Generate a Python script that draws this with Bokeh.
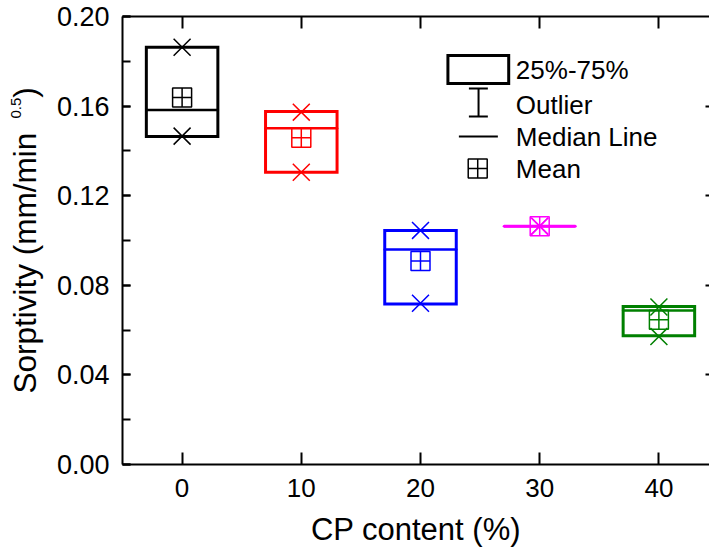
import math
from bokeh.plotting import figure
from bokeh.models import (Range1d, FixedTicker, LinearAxis, Title, ColumnDataSource,
                          PrintfTickFormatter, CustomJSTickFormatter)
from bokeh.embed import file_html
from bokeh.resources import INLINE
from bokeh.core.properties import value

# ---- data ----
cp_content = [0, 10, 20, 30, 40]
q1 = [0.1464, 0.1305, 0.0717, 0.1064, 0.0575]
q3 = [0.1863, 0.1576, 0.1045, 0.1064, 0.0705]
median = [0.1583, 0.1501, 0.0960, 0.1064, 0.0688]
mean = [0.1638, 0.1459, 0.0909, 0.1064, 0.0646]
v_min = [0.1466, 0.1305, 0.0720, 0.1064, 0.0571]
v_max = [0.1863, 0.1573, 0.1045, 0.1064, 0.0703]
colors = ["black", "red", "blue", "magenta", "green"]

x_ticks = [0, 10, 20, 30, 40]
y_ticks = [0.0, 0.04, 0.08, 0.12, 0.16, 0.20]
y_minor = [0.0, 0.02, 0.04, 0.06, 0.08, 0.10, 0.12, 0.14, 0.16, 0.18, 0.20]
legend_labels = ["25%-75%", "Outlier", "Median Line", "Mean"]

FONT = "Liberation Sans"
HALF = 3.0
W, H = 709, 552
NB = "\u00a0"

src = ColumnDataSource(dict(
    x=cp_content,
    left=[c - HALF for c in cp_content],
    right=[c + HALF for c in cp_content],
    q1=q1, q3=q3, median=median, mean=mean, vmin=v_min, vmax=v_max, color=colors,
))

p = figure(width=W, height=H, x_range=Range1d(-5, 44.245), y_range=Range1d(0, 0.2),
           output_backend="svg", toolbar_location=None,
           min_border_left=122, min_border_right=0, min_border_top=16, min_border_bottom=88)
p.outline_line_color = None
p.xgrid.visible = False
p.ygrid.visible = False
p.background_fill_color = "white"
p.border_fill_color = "white"

# boxes
p.quad(left="left", right="right", bottom="q1", top="q3", source=src,
       fill_color=None, line_color="color", line_width=3, line_join="miter")
# median
p.segment(x0="left", x1="right", y0="median", y1="median", source=src,
          line_color="color", line_width=2.5, line_cap="round")
# min / max
p.scatter(x="x", y="vmin", source=src, marker="x", size=24, line_color="color", line_width=1.5)
p.scatter(x="x", y="vmax", source=src, marker="x", size=24, line_color="color", line_width=1.5)
# mean
p.scatter(x="x", y="mean", source=src, marker="square_cross", size=19,
          fill_color=None, line_color="color", line_width=1.5)

# ---- axes ----
xa = p.xaxis[0]
xa.ticker = FixedTicker(ticks=x_ticks)
xa.major_tick_in = 12
xa.major_tick_out = 0
xa.minor_tick_line_color = None
xa.axis_line_width = 2
xa.major_tick_line_width = 2
xa.major_label_text_font = FONT
xa.major_label_text_font_size = "26px"
xa.major_label_text_color = "black"
xa.major_label_standoff = 14
xa.axis_label = "CP content (%)"
xa.axis_label_text_font = FONT
xa.axis_label_text_font_size = "31px"
xa.axis_label_text_font_style = "normal"
xa.axis_label_text_color = "black"
xa.axis_label_standoff = 12

ya = p.yaxis[0]
ya.ticker = FixedTicker(ticks=y_ticks, minor_ticks=y_minor)
ya.formatter = PrintfTickFormatter(format="%.2f")
ya.major_tick_in = 8
ya.major_tick_out = 0
ya.minor_tick_in = 8
ya.minor_tick_out = 0
ya.axis_line_width = 2
ya.major_tick_line_width = 2
ya.minor_tick_line_width = 2
ya.major_label_text_font = FONT
ya.major_label_text_font_size = "27px"
ya.major_label_text_color = "black"
ya.major_label_standoff = 13
ya.axis_label = "Sorptivity (mm/min" + NB * 4 + ")"
ya.axis_label_text_font = FONT
ya.axis_label_text_font_size = "31.5px"
ya.axis_label_text_font_style = "normal"
ya.axis_label_text_color = "black"
ya.axis_label_standoff = 11

top = LinearAxis(ticker=FixedTicker(ticks=x_ticks), major_tick_in=12, major_tick_out=0,
                 minor_tick_line_color=None, axis_line_width=2, major_tick_line_width=2,
                 formatter=CustomJSTickFormatter(code="return ''"), major_label_standoff=0)
p.add_layout(top, "above")
right = LinearAxis(ticker=FixedTicker(ticks=[0.04, 0.08, 0.12, 0.16]), major_tick_in=4,
                   major_tick_out=0, minor_tick_line_color=None, axis_line_color=None,
                   major_tick_line_width=2, formatter=CustomJSTickFormatter(code="return ''"),
                   major_label_standoff=0)
p.add_layout(right, "right")

# superscript of the y-axis title
sup = Title(text="0.5", align="left", offset=346, text_font=FONT, text_font_size="15px",
            text_font_style="normal", text_color="black", standoff=-35)
p.add_layout(sup, "left")

# ---- legend (drawn manually) ----
p.quad(left=[22.3], right=[27.4], bottom=[0.1701], top=[0.1826],
       fill_color=None, line_color="black", line_width=3, line_join="miter")
p.segment(x0=[24.87, 24.06, 24.06], x1=[24.87, 25.65, 25.65],
          y0=[0.1679, 0.1679, 0.1554], y1=[0.1554, 0.1679, 0.1554],
          line_color="black", line_width=2)
p.segment(x0=[23.22], x1=[26.49], y0=[0.1464], y1=[0.1464], line_color="black", line_width=2)
p.scatter(x=[24.8], y=[0.1321], marker="square_cross", size=19, fill_color=None,
          line_color="black", line_width=1.5)
p.text(x=[28.0] * 4, y=[0.1759, 0.1607, 0.1464, 0.1321], text=legend_labels,
       text_font=value(FONT), text_font_size="26px", text_baseline="middle",
       text_align="left", text_color="black")

open("out.html", "w").write(file_html(p, INLINE))
